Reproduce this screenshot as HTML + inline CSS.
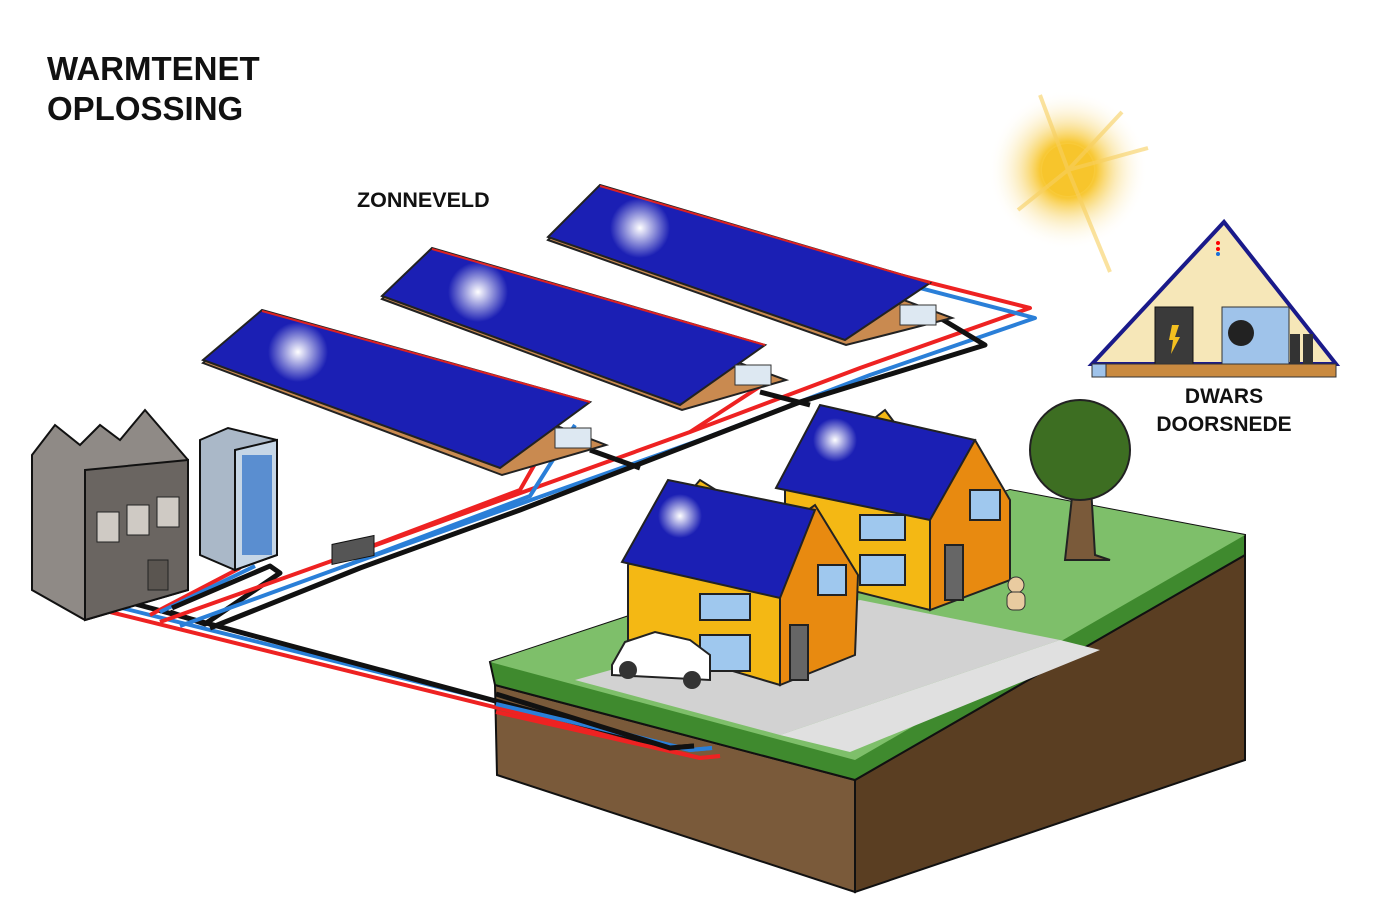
<!DOCTYPE html>
<html><head><meta charset="utf-8"><style>
html,body{margin:0;padding:0;background:#fff;width:1400px;height:910px;overflow:hidden}
svg{display:block}
text{font-family:"Liberation Sans",sans-serif;font-weight:bold;fill:#111}
</style></head><body>
<svg width="1400" height="910" viewBox="0 0 1400 910" xmlns="http://www.w3.org/2000/svg">
<defs>
<radialGradient id="sun"><stop offset="0" stop-color="#fff3a0"/><stop offset="0.35" stop-color="#f8c834"/><stop offset="0.6" stop-color="#f9dd88" stop-opacity="0.6"/><stop offset="1" stop-color="#fff" stop-opacity="0"/></radialGradient>
<radialGradient id="glare"><stop offset="0" stop-color="#fff"/><stop offset="1" stop-color="#fff" stop-opacity="0"/></radialGradient>
</defs>
<text x="47" y="80" font-size="33">WARMTENET</text>
<text x="47" y="120" font-size="33">OPLOSSING</text>
<text x="357" y="207" font-size="21.5">ZONNEVELD</text>
<text x="1224" y="403" font-size="21" text-anchor="middle">DWARS</text>
<text x="1224" y="431" font-size="21" text-anchor="middle">DOORSNEDE</text>
<!-- sun -->
<circle cx="1068" cy="170" r="80" fill="url(#sun)"/>
<circle cx="1068" cy="170" r="26" fill="#f7c52c"/>
<g stroke="#f8d060" stroke-width="4" opacity="0.6"><line x1="1068" y1="170" x2="1110" y2="272"/><line x1="1068" y1="170" x2="1148" y2="148"/><line x1="1068" y1="170" x2="1018" y2="210"/><line x1="1068" y1="170" x2="1040" y2="95"/><line x1="1068" y1="170" x2="1122" y2="112"/></g>
<!-- cross section -->
<polygon points="1092,364 1224,222 1336,364" fill="#f6e7b8" stroke="#1a1a8a" stroke-width="4"/>
<rect x="1155" y="307" width="38" height="57" fill="#3a3a3a" stroke="#111"/>
<polygon points="1172,325 1179,325 1175,337 1180,337 1171,354 1173,340 1169,340" fill="#f4c020"/>
<rect x="1222" y="307" width="67" height="57" fill="#9fc3ea" stroke="#333"/>
<circle cx="1241" cy="333" r="13" fill="#222"/>
<rect x="1290" y="334" width="10" height="30" fill="#333"/><rect x="1303" y="334" width="10" height="30" fill="#333"/>
<circle cx="1218" cy="243" r="2" fill="red"/><circle cx="1218" cy="249" r="2" fill="red"/><circle cx="1218" cy="254" r="2" fill="#1a6fd8"/>
<rect x="1092" y="364" width="244" height="13" fill="#c98a40" stroke="#333"/>
<rect x="1092" y="364" width="14" height="13" fill="#9fc3ea" stroke="#333"/>
<!-- ground block -->
<polygon points="495,685 855,780 855,892 497,775" fill="#7a5a3a" stroke="#111" stroke-width="2"/>
<polygon points="855,780 1245,555 1245,760 855,892" fill="#5a3e22" stroke="#111" stroke-width="2"/>
<polygon points="490,662 1010,490 1245,535 1245,555 855,780 495,685" fill="#3f8a2e" stroke="#111" stroke-width="2"/>
<polygon points="490,662 1010,490 1245,535 855,760" fill="#7ebf6a"/>
<polygon points="575,680 860,600 1060,640 780,735" fill="#d2d2d2"/>
<polygon points="780,735 1060,640 1100,650 850,752" fill="#e0e0e0"/>
<!-- pipes -->
<g fill="none" stroke-width="4" stroke-linejoin="round">
<polyline stroke="#ee2222" points="110,612 700,758 720,756"/>
<polyline stroke="#2a7fd8" points="118,607 690,750 712,748"/>
<polyline stroke="#111" stroke-width="5" points="128,602 670,748 694,746"/>
<polyline stroke="#ee2222" points="150,615 240,568"/>
<polyline stroke="#2a7fd8" points="160,612 255,566"/>
<polyline stroke="#111" stroke-width="5" points="172,608 270,566 280,573 205,624 170,612"/>
<polyline stroke="#ee2222" points="160,622 340,558 690,432 860,368 1030,308 820,255"/>
<polyline stroke="#2a7fd8" points="180,626 345,566 700,440 870,375 1035,318 820,262"/>
<polyline stroke="#111" stroke-width="5" points="210,628 360,568 520,510 800,402 985,345 940,318"/>
<polyline stroke="#ee2222" points="340,558 520,490 560,420"/>
<polyline stroke="#2a7fd8" points="345,566 530,496 575,425"/>
<polyline stroke="#111" stroke-width="5" points="590,450 640,468"/>
<polyline stroke="#ee2222" points="690,432 770,380"/>
<polyline stroke="#111" stroke-width="5" points="760,392 810,405"/>
</g>
<rect x="332" y="545" width="42" height="20" fill="#555" stroke="#111" transform="skewY(-12) translate(0,70)"/>
<!-- solar rows -->
<g stroke="#222" stroke-width="2">
<polygon points="548,240 846,345 952,318 600,187" fill="#c98a50"/>
<polygon points="548,237 600,185 930,283 845,340" fill="#1b1fb4"/>
<polygon points="382,299 682,410 786,380 432,250" fill="#c98a50"/>
<polygon points="382,296 432,248 765,345 680,405" fill="#1b1fb4"/>
<polygon points="203,363 502,475 606,445 262,312" fill="#c98a50"/>
<polygon points="203,360 262,310 590,402 500,468" fill="#1b1fb4"/>
</g>
<line x1="600" y1="186" x2="930" y2="283" stroke="#d22" stroke-width="2"/>
<line x1="432" y1="249" x2="765" y2="345" stroke="#d22" stroke-width="2"/>
<line x1="262" y1="311" x2="590" y2="402" stroke="#d22" stroke-width="2"/>
<circle cx="640" cy="228" r="30" fill="url(#glare)"/>
<circle cx="478" cy="292" r="30" fill="url(#glare)"/>
<circle cx="298" cy="352" r="30" fill="url(#glare)"/>
<rect x="900" y="305" width="36" height="20" fill="#dde8f2" stroke="#333"/>
<rect x="735" y="365" width="36" height="20" fill="#dde8f2" stroke="#333"/>
<rect x="555" y="428" width="36" height="20" fill="#dde8f2" stroke="#333"/>
<!-- factory & tower -->
<g stroke="#111" stroke-width="2">
<polygon points="32,455 55,425 80,445 100,425 120,440 145,410 188,460 188,590 85,620 32,590" fill="#8f8a86"/>
<polygon points="85,470 188,460 188,590 85,620" fill="#6a6561"/>
<polygon points="200,440 228,428 277,440 277,555 235,570 200,555" fill="#aab8c8"/>
<polygon points="235,450 277,440 277,555 235,570" fill="#c6d6e6"/>
</g>
<g fill="#cfcac4" stroke="#222"><rect x="97" y="512" width="22" height="30"/><rect x="127" y="505" width="22" height="30"/><rect x="157" y="497" width="22" height="30"/><rect x="148" y="560" width="20" height="30" fill="#5a5550"/></g>
<g fill="#5a8ed0"><rect x="242" y="455" width="30" height="100"/></g>
<!-- houses -->
<g stroke="#222" stroke-width="2">
<polygon points="785,488 885,410 930,470 930,610 850,590 785,545" fill="#f4b814"/>
<polygon points="930,470 975,440 1010,500 1010,580 930,610" fill="#e88a10"/>
<polygon points="776,488 820,405 975,440 930,520" fill="#1b1fb4"/>
<polygon points="628,565 700,480 780,530 780,685 628,640" fill="#f4b814"/>
<polygon points="780,530 815,505 858,575 855,655 780,685" fill="#e88a10"/>
<polygon points="622,562 668,480 815,510 780,598" fill="#1b1fb4"/>
<rect x="700" y="594" width="50" height="26" fill="#9fc8ee"/>
<rect x="700" y="635" width="50" height="36" fill="#9fc8ee"/>
<rect x="860" y="515" width="45" height="25" fill="#9fc8ee"/>
<rect x="860" y="555" width="45" height="30" fill="#9fc8ee"/>
<rect x="790" y="625" width="18" height="55" fill="#666"/>
<rect x="945" y="545" width="18" height="55" fill="#666"/>
<rect x="818" y="565" width="28" height="30" fill="#9fc8ee"/>
<rect x="970" y="490" width="30" height="30" fill="#9fc8ee"/>
<!-- tree -->
<polygon points="1065,560 1075,470 1090,470 1095,555 1110,560" fill="#7a5a3a"/>
<circle cx="1080" cy="450" r="50" fill="#3d6e22"/>
<!-- car -->
<path d="M612,665 L625,642 L655,632 L690,640 L710,655 L710,680 L612,675 Z" fill="#fff"/>
</g>
<circle cx="680" cy="516" r="22" fill="url(#glare)"/>
<circle cx="835" cy="440" r="22" fill="url(#glare)"/>
<circle cx="628" cy="670" r="9" fill="#333"/><circle cx="692" cy="680" r="9" fill="#333"/>
<circle cx="1016" cy="585" r="8" fill="#e9cba0" stroke="#333"/>
<rect x="1007" y="592" width="18" height="18" rx="6" fill="#e9cba0" stroke="#333"/>
<!-- pipes visible on soil face -->
<g fill="none" stroke-width="4">
<polyline stroke="#ee2222" points="496,712 700,758 720,756"/>
<polyline stroke="#2a7fd8" points="496,704 690,750 712,748"/>
<polyline stroke="#111" stroke-width="5" points="496,694 670,748 694,746"/>
</g>
</svg>
</body></html>
